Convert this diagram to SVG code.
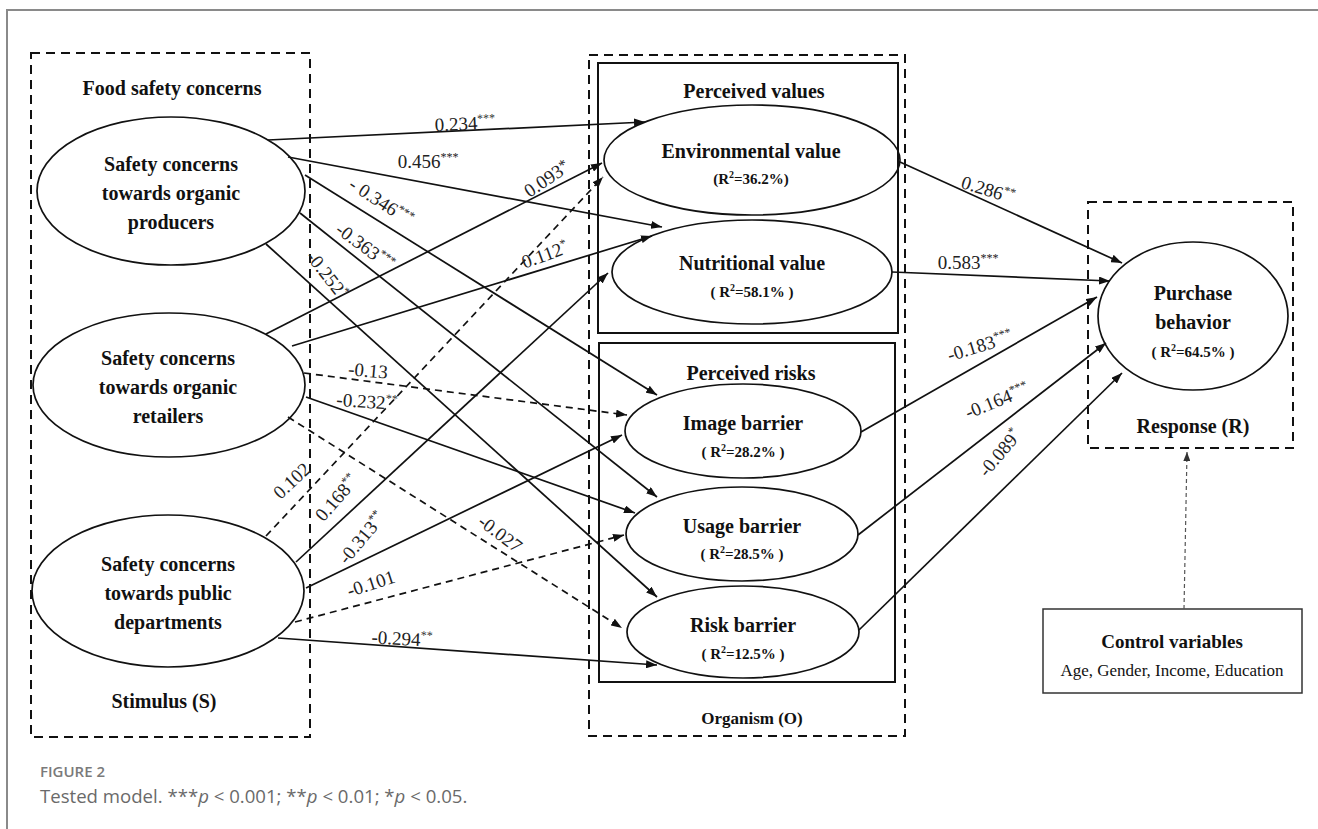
<svg xmlns="http://www.w3.org/2000/svg" width="1318" height="829" viewBox="0 0 1318 829">
<style>
.bg{fill:#fff}
.frame{stroke:#8a8a8a;stroke-width:2;fill:none}
.dbox{fill:none;stroke:#111;stroke-width:2;stroke-dasharray:9 6}
.sbox{fill:none;stroke:#111;stroke-width:2}
.ell{fill:none;stroke:#111;stroke-width:1.7}
.nt{font-family:"Liberation Serif","Times New Roman",serif;font-weight:bold;font-size:20px;fill:#111;text-anchor:middle}
.r2{font-family:"Liberation Serif","Times New Roman",serif;font-weight:bold;font-size:15px;fill:#111;text-anchor:middle}
.reg{font-family:"Liberation Serif","Times New Roman",serif;font-size:17px;fill:#111;text-anchor:middle}
.lab{font-family:"Liberation Serif","Times New Roman",serif;font-size:19px;fill:#222;text-anchor:middle}
.sup{font-size:12px}
.c{fill:none;stroke:#111;stroke-width:1.7}
.cd{fill:none;stroke:#111;stroke-width:1.7;stroke-dasharray:7 5}
.ctl{fill:none;stroke:#555;stroke-width:1.2;stroke-dasharray:4 3}
.cap1{font-family:"Open Sans","Noto Sans",sans-serif;font-weight:600;font-size:15px;fill:#7a7a7a}
.cap2{font-family:"Open Sans","Noto Sans",sans-serif;font-size:18.6px;fill:#6a6a6a}
</style>
<defs>
<marker id="ah" markerUnits="userSpaceOnUse" markerWidth="11" markerHeight="8" refX="11" refY="4" orient="auto"><path d="M0,0 L11,4 L0,8 z" fill="#111"/></marker>
<marker id="ahs" markerUnits="userSpaceOnUse" markerWidth="9" markerHeight="7" refX="9" refY="3.5" orient="auto"><path d="M0,0 L9,3.5 L0,7 z" fill="#333"/></marker>
</defs>
<rect class="bg" x="0" y="0" width="1318" height="829"/>
<path class="frame" d="M7,829 V10 H1318"/>

<g id="stimulus">
<rect class="dbox" x="31" y="53" width="279" height="684"/>
<text class="nt" x="172" y="95">Food safety concerns</text>
<text class="nt" x="164" y="708">Stimulus (S)</text>
</g>
<g id="sc-producers">
<ellipse class="ell" cx="171" cy="191" rx="134" ry="74"/>
<text class="nt" x="171" y="171">Safety concerns</text>
<text class="nt" x="171" y="200">towards organic</text>
<text class="nt" x="171" y="229">producers</text>
</g>
<g id="sc-retailers">
<ellipse class="ell" cx="169" cy="385" rx="136" ry="72"/>
<text class="nt" x="168" y="365">Safety concerns</text>
<text class="nt" x="168" y="394">towards organic</text>
<text class="nt" x="168" y="423">retailers</text>
</g>
<g id="sc-public">
<ellipse class="ell" cx="168" cy="591" rx="136" ry="76"/>
<text class="nt" x="168" y="571">Safety concerns</text>
<text class="nt" x="168" y="600">towards public</text>
<text class="nt" x="168" y="629">departments</text>
</g>

<g id="organism">
<rect class="dbox" x="589" y="55" width="316" height="681"/>
<text class="nt" x="752" y="724" style="font-size:17px">Organism (O)</text>
</g>
<g id="perceived-values">
<rect class="sbox" x="598" y="63" width="300" height="270"/>
<text class="nt" x="754" y="98">Perceived values</text>
</g>
<g id="env-value">
<ellipse class="ell" cx="752" cy="160" rx="148" ry="55"/>
<text class="nt" x="751" y="158">Environmental value</text>
<text class="r2" x="751" y="184">(R<tspan font-size="10" dy="-6">2</tspan><tspan dy="6">=36.2%)</tspan></text>
</g>
<g id="nut-value">
<ellipse class="ell" cx="752" cy="272" rx="140" ry="52"/>
<text class="nt" x="752" y="270">Nutritional value</text>
<text class="r2" x="752" y="297">( R<tspan font-size="10" dy="-6">2</tspan><tspan dy="6">=58.1% )</tspan></text>
</g>
<g id="perceived-risks">
<rect class="sbox" x="599" y="343" width="296" height="339"/>
<text class="nt" x="751" y="380">Perceived risks</text>
</g>
<g id="image-barrier">
<ellipse class="ell" cx="743" cy="431" rx="118" ry="47"/>
<text class="nt" x="743" y="430">Image barrier</text>
<text class="r2" x="743" y="457">( R<tspan font-size="10" dy="-6">2</tspan><tspan dy="6">=28.2% )</tspan></text>
</g>
<g id="usage-barrier">
<ellipse class="ell" cx="742" cy="534" rx="116" ry="47"/>
<text class="nt" x="742" y="533">Usage barrier</text>
<text class="r2" x="742" y="559">( R<tspan font-size="10" dy="-6">2</tspan><tspan dy="6">=28.5% )</tspan></text>
</g>
<g id="risk-barrier">
<ellipse class="ell" cx="743" cy="632" rx="116" ry="46"/>
<text class="nt" x="743" y="632">Risk barrier</text>
<text class="r2" x="743" y="659">( R<tspan font-size="10" dy="-6">2</tspan><tspan dy="6">=12.5% )</tspan></text>
</g>

<g id="response">
<rect class="dbox" x="1088" y="202" width="205" height="246"/>
<text class="nt" x="1193" y="433">Response (R)</text>
</g>
<g id="purchase-behavior">
<ellipse class="ell" cx="1193" cy="316" rx="95" ry="74"/>
<text class="nt" x="1193" y="300">Purchase</text>
<text class="nt" x="1193" y="329">behavior</text>
<text class="r2" x="1193" y="357">( R<tspan font-size="10" dy="-6">2</tspan><tspan dy="6">=64.5% )</tspan></text>
</g>
<g id="control-variables">
<rect x="1043" y="609" width="259" height="84" fill="none" stroke="#333" stroke-width="1.5"/>
<text class="nt" x="1172" y="648" style="font-size:19px">Control variables</text>
<text class="reg" x="1172" y="676">Age, Gender, Income, Education</text>
</g>

<g id="connectors">
<line class="c" x1="268" y1="140" x2="645" y2="122" marker-end="url(#ah)"/>
<line class="c" x1="288" y1="157" x2="662" y2="227" marker-end="url(#ah)"/>
<line class="c" x1="305" y1="175" x2="657" y2="395" marker-end="url(#ah)"/>
<line class="c" x1="300" y1="213" x2="657" y2="497" marker-end="url(#ah)"/>
<line class="c" x1="266" y1="244" x2="657" y2="597" marker-end="url(#ah)"/>
<line class="c" x1="266" y1="334" x2="602" y2="163" marker-end="url(#ah)"/>
<line class="c" x1="292" y1="346" x2="652" y2="236" marker-end="url(#ah)"/>
<line class="cd" x1="304" y1="373" x2="627" y2="415" marker-end="url(#ah)"/>
<line class="c" x1="306" y1="397" x2="635" y2="513" marker-end="url(#ah)"/>
<line class="cd" x1="288" y1="417" x2="622" y2="628" marker-end="url(#ah)"/>
<line class="cd" x1="266" y1="536" x2="603" y2="177" marker-end="url(#ah)"/>
<line class="c" x1="296" y1="562" x2="608" y2="273" marker-end="url(#ah)"/>
<line class="c" x1="306" y1="588" x2="622" y2="435" marker-end="url(#ah)"/>
<line class="cd" x1="295" y1="622" x2="624" y2="535" marker-end="url(#ah)"/>
<line class="c" x1="278" y1="638" x2="657" y2="665" marker-end="url(#ah)"/>
<line class="c" x1="900" y1="162" x2="1122" y2="263" marker-end="url(#ah)"/>
<line class="c" x1="892" y1="272" x2="1110" y2="281" marker-end="url(#ah)"/>
<line class="c" x1="861" y1="432" x2="1097" y2="297" marker-end="url(#ah)"/>
<line class="c" x1="858" y1="535" x2="1106" y2="343" marker-end="url(#ah)"/>
<line class="c" x1="859" y1="630" x2="1122" y2="373" marker-end="url(#ah)"/>
<line class="ctl" x1="1184" y1="609" x2="1187" y2="452" marker-end="url(#ahs)"/>

<g transform="translate(465,124) rotate(-2.5)"><text class="lab" y="6">0.234<tspan class="sup" dy="-7">***</tspan></text></g>
<g transform="translate(428,162)"><text class="lab" y="6">0.456<tspan class="sup" dy="-7">***</tspan></text></g>
<g transform="translate(381,202) rotate(33)"><text class="lab" y="6">- 0.346<tspan class="sup" dy="-7">***</tspan></text></g>
<g transform="translate(365,247) rotate(36)"><text class="lab" y="6">-0.363<tspan class="sup" dy="-7">***</tspan></text></g>
<g transform="translate(327,275) rotate(52)"><text class="lab" y="6">-0.252<tspan class="sup" dy="-7">*</tspan></text></g>
<g transform="translate(547,179) rotate(-34)"><text class="lab" y="6">0.093<tspan dy="-4" font-size="15">*</tspan></text></g>
<g transform="translate(545,255) rotate(-20)"><text class="lab" y="6">0.112<tspan class="sup" dy="-7">*</tspan></text></g>
<g transform="translate(368,371) rotate(5)"><text class="lab" y="6">-0.13</text></g>
<g transform="translate(367,402) rotate(4)"><text class="lab" y="6">-0.232<tspan class="sup" dy="-7">**</tspan></text></g>
<g transform="translate(500,534) rotate(37)"><text class="lab" y="6">-0.027</text></g>
<g transform="translate(292,481) rotate(-43)"><text class="lab" y="6">0.102</text></g>
<g transform="translate(337,498) rotate(-49)"><text class="lab" y="6">0.168<tspan class="sup" dy="-7">**</tspan></text></g>
<g transform="translate(362,538) rotate(-50)"><text class="lab" y="6">-0.313<tspan class="sup" dy="-7">**</tspan></text></g>
<g transform="translate(371,584) rotate(-18)"><text class="lab" y="6">-0.101</text></g>
<g transform="translate(402,639) rotate(3)"><text class="lab" y="6">-0.294<tspan class="sup" dy="-7">**</tspan></text></g>
<g transform="translate(988,190) rotate(17)"><text class="lab" y="6">0.286<tspan class="sup" dy="-7">**</tspan></text></g>
<g transform="translate(968,263)"><text class="lab" y="6">0.583<tspan class="sup" dy="-7">***</tspan></text></g>
<g transform="translate(980,346) rotate(-17)"><text class="lab" y="6">-0.183<tspan class="sup" dy="-7">***</tspan></text></g>
<g transform="translate(997,401) rotate(-22)"><text class="lab" y="6">-0.164<tspan class="sup" dy="-7">***</tspan></text></g>
<g transform="translate(1000,453) rotate(-50)"><text class="lab" y="6">-0.089<tspan class="sup" dy="-7">*</tspan></text></g>
</g>

<text class="cap1" x="40" y="777">FIGURE 2</text>
<text class="cap2" x="40" y="803">Tested model. ***<tspan font-style="italic">p</tspan> &lt; 0.001; **<tspan font-style="italic">p</tspan> &lt; 0.01; *<tspan font-style="italic">p</tspan> &lt; 0.05.</text>
</svg>
